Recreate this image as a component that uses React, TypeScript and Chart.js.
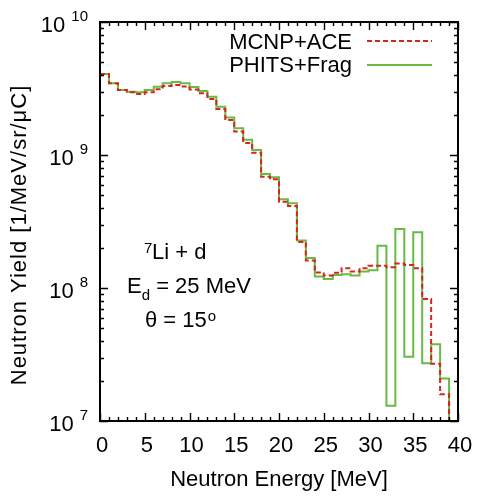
import React, { useEffect, useRef } from "react";
import { Chart, registerables } from "chart.js";

Chart.register(...registerables);

// Bin edges in MeV (1 MeV wide bins)
const binEdges = [
  0, 1, 2, 3, 4, 5, 6, 7, 8, 9, 10, 11, 12, 13, 14, 15, 16, 17, 18, 19, 20,
  21, 22, 23, 24, 25, 26, 27, 28, 29, 30, 31, 32, 33, 34, 35, 36, 37, 38, 39, 40,
];

// Neutron yield per bin [1/MeV/sr/uC]
const mcnpAce = [
  4.06e9, 3.46e9, 3.08e9, 2.96e9, 2.88e9, 2.96e9, 3.12e9, 3.3e9, 3.36e9, 3.27e9,
  3.11e9, 2.91e9, 2.64e9, 2.22e9, 1.83e9, 1.5e9, 1.23e9, 1.04e9, 6.87e8, 6.56e8,
  4.46e8, 4.14e8, 2.22e8, 1.61e8, 1.31e8, 1.24e8, 1.3e8, 1.41e8, 1.33e8, 1.41e8,
  1.47e8, 1.47e8, 1.43e8, 1.53e8, 1.49e8, 1.41e8, 8.26e7, 2.69e7, 1.59e7, 3e6,
];

const phitsFrag = [
  4.06e9, 3.46e9, 3.08e9, 2.99e9, 2.96e9, 3.08e9, 3.26e9, 3.46e9, 3.54e9, 3.46e9,
  3.24e9, 3.03e9, 2.74e9, 2.31e9, 1.91e9, 1.59e9, 1.3e9, 1.09e9, 7.2e8, 6.79e8,
  4.64e8, 4.33e8, 2.28e8, 1.68e8, 1.22e8, 1.17e8, 1.25e8, 1.27e8, 1.24e8, 1.33e8,
  1.36e8, 2.08e8, 1.3e7, 2.78e8, 3.04e7, 2.62e8, 2.72e7, 3.78e7, 2.09e7, 3e6,
];

const seriesLabels = ["MCNP+ACE", "PHITS+Frag"];
const xTickValues = [0, 5, 10, 15, 20, 25, 30, 35, 40];
const xTickLabels = ["0", "5", "10", "15", "20", "25", "30", "35", "40"];
const yTickValues = [1e7, 1e8, 1e9, 1e10];
const yTickExponents = ["7", "8", "9", "10"];
const xTitle = "Neutron Energy [MeV]";
const yTitle = "Neutron Yield [1/MeV/sr/\u03bcC]";

const RED = "rgb(214,38,28)";
const GREEN = "rgb(104,186,68)";
const DASH = [5, 3];
const FONT = "'Liberation Sans', Arial, Helvetica, sans-serif";

function toSteps(values: number[]) {
  // point i sits at the left edge of bin i; the final point closes the last bin
  return binEdges.map((x, i) => ({ x, y: values[Math.min(i, values.length - 1)] }));
}

const overlay = {
  id: "overlay",
  afterDatasetsDraw(chart: any) {
    const { ctx, chartArea: a } = chart;
    const xs = chart.scales.x;
    const ys = chart.scales.y;
    ctx.save();

    // frame
    ctx.strokeStyle = "#000";
    ctx.lineWidth = 2;
    ctx.strokeRect(a.left, a.top, a.right - a.left, a.bottom - a.top);

    // ticks (inward, all four sides)
    ctx.lineWidth = 1.4;
    ctx.beginPath();
    for (let v = xs.min; v <= xs.max; v += 1) {
      const px = Math.round(xs.getPixelForValue(v)) + 0.5;
      const len = v % 5 === 0 ? 8 : 4;
      ctx.moveTo(px, a.bottom);
      ctx.lineTo(px, a.bottom - len);
      ctx.moveTo(px, a.top);
      ctx.lineTo(px, a.top + len);
    }
    for (let d = 7; d <= 9; d++) {
      for (let m = 1; m <= 10; m++) {
        const val = m * Math.pow(10, d);
        const py = Math.round(ys.getPixelForValue(val)) + 0.5;
        const len = m === 1 || m === 10 ? 8 : 4;
        ctx.moveTo(a.left, py);
        ctx.lineTo(a.left + len, py);
        ctx.moveTo(a.right, py);
        ctx.lineTo(a.right - len, py);
      }
    }
    ctx.stroke();

    ctx.fillStyle = "#000";
    // x tick labels
    ctx.font = `22px ${FONT}`;
    ctx.textAlign = "center";
    ctx.textBaseline = "alphabetic";
    xTickValues.forEach((v, i) => {
      ctx.fillText(xTickLabels[i], xs.getPixelForValue(v) + 2, 452);
    });

    // y tick labels 10^n
    yTickValues.forEach((v, i) => {
      const py = ys.getPixelForValue(v);
      ctx.font = `15px ${FONT}`;
      ctx.textAlign = "right";
      const exp = yTickExponents[i];
      const ew = ctx.measureText(exp).width;
      ctx.fillText(exp, 88, py - 1);
      ctx.font = `22px ${FONT}`;
      ctx.fillText("10", 88 - ew - 6, py + 10);
    });

    // axis titles
    ctx.font = `22px ${FONT}`;
    ctx.textAlign = "center";
    ctx.fillText(xTitle, (a.left + a.right) / 2, 486);
    ctx.save();
    ctx.translate(26, 235);
    ctx.rotate(-Math.PI / 2);
    (ctx as any).letterSpacing = "1px";
    ctx.fillText(yTitle, 0, 0);
    ctx.restore();

    // legend
    ctx.textAlign = "right";
    ctx.fillText(seriesLabels[0], 352, 49);
    ctx.fillText(seriesLabels[1], 352, 72);
    ctx.lineWidth = 2;
    ctx.strokeStyle = RED;
    ctx.setLineDash(DASH);
    ctx.beginPath();
    ctx.moveTo(367, 41);
    ctx.lineTo(432, 41);
    ctx.stroke();
    ctx.setLineDash([]);
    ctx.strokeStyle = GREEN;
    ctx.beginPath();
    ctx.moveTo(367, 65);
    ctx.lineTo(432, 65);
    ctx.stroke();

    // annotations
    ctx.textAlign = "left";
    ctx.font = `15px ${FONT}`;
    ctx.fillText("7", 144, 253);
    ctx.font = `22px ${FONT}`;
    ctx.fillText("Li + d", 152, 259);

    ctx.fillText("E", 127, 293);
    const eW = ctx.measureText("E").width;
    ctx.font = `15px ${FONT}`;
    ctx.fillText("d", 127 + eW, 300);
    const dW = ctx.measureText("d").width;
    ctx.font = `22px ${FONT}`;
    ctx.fillText(" = 25 MeV", 127 + eW + dW, 293);

    ctx.fillText("\u03b8 = 15", 145, 327);
    const tW = ctx.measureText("\u03b8 = 15").width;
    ctx.font = `15px ${FONT}`;
    ctx.fillText("o", 145 + tW + 1, 321);

    ctx.restore();
  },
};

export default function App() {
  const ref = useRef<HTMLCanvasElement | null>(null);

  useEffect(() => {
    if (!ref.current) return;
    const chart = new Chart(ref.current, {
      type: "line",
      data: {
        datasets: [
          {
            label: seriesLabels[0],
            data: toSteps(mcnpAce),
            borderColor: RED,
            borderDash: DASH,
            borderWidth: 2,
            stepped: "before",
            fill: false,
            pointRadius: 0,
          },
          {
            label: seriesLabels[1],
            data: toSteps(phitsFrag),
            borderColor: GREEN,
            borderWidth: 2,
            stepped: "before",
            fill: false,
            pointRadius: 0,
          },
        ],
      },
      options: {
        animation: false,
        responsive: false,
        events: [],
        layout: { padding: { left: 100, top: 22, right: 23, bottom: 79 } },
        plugins: { legend: { display: false }, tooltip: { enabled: false } },
        scales: {
          x: { type: "linear", min: 0, max: 40, display: false },
          y: { type: "logarithmic", min: 1e7, max: 1e10, display: false },
        },
      },
      plugins: [overlay],
    });
    return () => chart.destroy();
  }, []);

  return (
    <div style={{ position: "fixed", left: 0, top: 0, width: 481, height: 500, background: "#fff" }}>
      <canvas ref={ref} width={481} height={500} style={{ width: 481, height: 500, display: "block" }} />
    </div>
  );
}
